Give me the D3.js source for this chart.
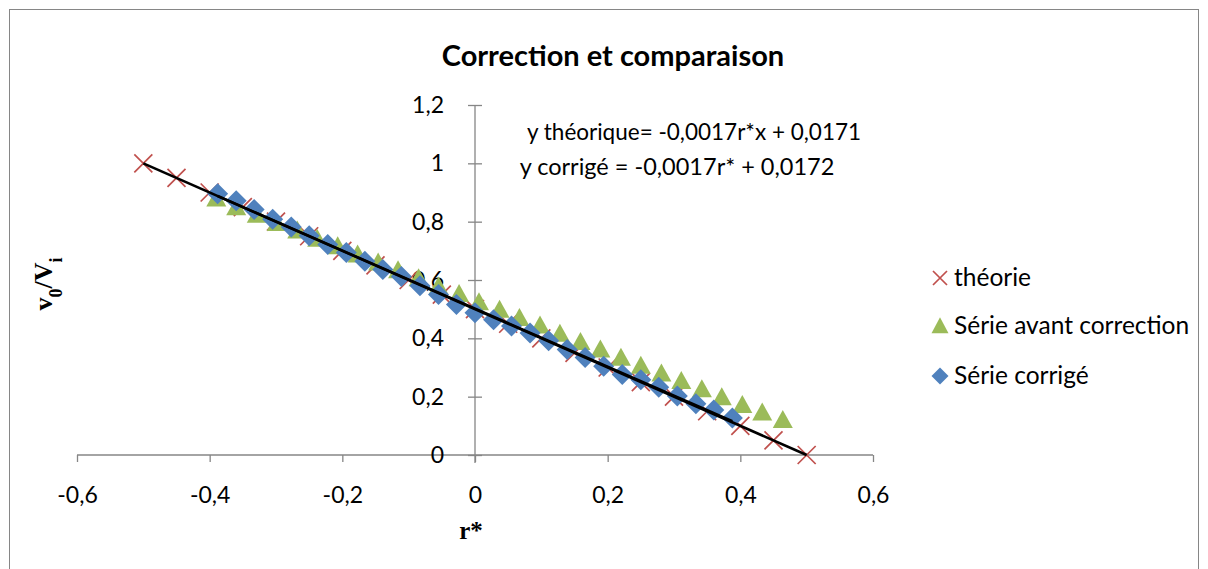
<!DOCTYPE html>
<html>
<head>
<meta charset="utf-8">
<script src="https://cdn.jsdelivr.net/npm/d3@7"></script>
<style>
  html, body { margin: 0; padding: 0; background: #fff; }
  svg { display: block; }
  text { font-family: Lato, "Open Sans", sans-serif; }
</style>
</head>
<body>
<svg id="chart" width="1208" height="569"></svg>
<script>
// ---------- data ----------
const theoryX = [-0.5,-0.45,-0.4,-0.35,-0.3,-0.25,-0.2,-0.15,-0.1,-0.05,0,0.05,0.1,0.15,0.2,0.25,0.3,0.35,0.4,0.45,0.5];
const theoryY = [1,0.95,0.9,0.85,0.8,0.75,0.7,0.65,0.6,0.55,0.5,0.45,0.4,0.35,0.3,0.25,0.2,0.15,0.1,0.05,0];

const avantX = [-0.390,-0.360,-0.329,-0.299,-0.268,-0.238,-0.207,-0.177,-0.146,-0.116,-0.085,-0.055,-0.024,0.006,0.037,0.067,0.098,0.128,0.159,0.189,0.220,0.250,0.281,0.311,0.342,0.372,0.403,0.433,0.464];
const avantY = [0.880,0.850,0.824,0.796,0.770,0.742,0.716,0.688,0.660,0.634,0.606,0.578,0.552,0.524,0.498,0.470,0.444,0.416,0.388,0.362,0.334,0.306,0.280,0.254,0.226,0.198,0.172,0.146,0.120];

const corrX = [-0.388,-0.360,-0.333,-0.305,-0.277,-0.250,-0.222,-0.194,-0.166,-0.139,-0.111,-0.083,-0.055,-0.028,0,0.028,0.055,0.083,0.111,0.139,0.166,0.194,0.222,0.250,0.277,0.305,0.333,0.360,0.388];
const corrY = [0.896,0.872,0.842,0.808,0.782,0.752,0.722,0.694,0.664,0.636,0.612,0.580,0.550,0.516,0.488,0.464,0.442,0.418,0.392,0.362,0.334,0.304,0.276,0.258,0.232,0.202,0.176,0.154,0.127];

const xTicks = [-0.6,-0.4,-0.2,0,0.2,0.4,0.6];
const yTicks = [0,0.2,0.4,0.6,0.8,1,1.2];
const seriesNames = ["théorie","Série avant correction","Série corrigé"];
const titleText = "Correction et comparaison";
const eqTexts = ["y théorique= -0,0017r*x + 0,0171","y corrigé = -0,0017r* + 0,0172"];

// ---------- layout ----------
const svg = d3.select("#chart");
const plot = {left: 77, right: 873, top: 105, bottom: 455};
const x = d3.scaleLinear().domain([-0.6, 0.6]).range([plot.left, plot.right]);
const y = d3.scaleLinear().domain([0, 1.2]).range([plot.bottom, plot.top]);
const fmt = d => String(+d.toFixed(1)).replace(".", ",");
const axisCol = "#868686";
const C = {theory: "#c0504d", avant: "#9bbb59", corr: "#4f81bd"};

// outer border (bottom edge lies below the visible area, as in the reference)
svg.append("rect").attr("x", 9.5).attr("y", 9.5).attr("width", 1189).attr("height", 580)
  .attr("fill", "#fff").attr("stroke", axisCol).attr("stroke-width", 1);

// title
svg.append("text").attr("x", 613).attr("y", 66).attr("text-anchor", "middle")
  .attr("font-size", 29).attr("font-weight", "bold").text(titleText);

// x axis
const gx = svg.append("g").attr("transform", `translate(0,${y(0)})`)
  .call(d3.axisBottom(x).tickValues(xTicks).tickFormat(fmt).tickSize(7).tickPadding(25));
gx.select(".domain").attr("stroke", axisCol).attr("stroke-width", 1.3)
  .attr("d", `M${plot.left},0H${plot.right}`);
gx.selectAll(".tick line").attr("stroke", axisCol).attr("stroke-width", 1.3);
gx.selectAll(".tick text").attr("font-size", 23).attr("fill", "#000")
  .style("font-family", "Lato, sans-serif");

// y axis (crossing ticks)
const gy = svg.append("g").attr("transform", `translate(${x(0)},0)`)
  .call(d3.axisLeft(y).tickValues(yTicks).tickFormat(fmt).tickSize(7).tickPadding(24));
gy.select(".domain").attr("stroke", axisCol).attr("stroke-width", 1.3)
  .attr("d", `M0,${plot.top}V${plot.bottom + 8}`);
gy.selectAll(".tick line").attr("stroke", axisCol).attr("stroke-width", 1.3)
  .attr("x1", 7).attr("x2", -7);
gy.selectAll(".tick text").attr("font-size", 23).attr("fill", "#000")
  .style("font-family", "Lato, sans-serif");

// axis titles
svg.append("text").attr("x", 471).attr("y", 539).attr("text-anchor", "middle")
  .style("font-family", "'Liberation Serif', 'Times New Roman', serif")
  .attr("font-size", 25).attr("font-weight", "bold").text("r*");
const yl = svg.append("text")
  .attr("transform", "translate(52,284) rotate(-90)").attr("text-anchor", "middle")
  .style("font-family", "'Liberation Serif', 'Times New Roman', serif")
  .attr("font-size", 26).attr("font-weight", "bold");
yl.append("tspan").text("v");
yl.append("tspan").attr("baseline-shift", "sub").attr("font-size", 18).text("0");
yl.append("tspan").text("/V");
yl.append("tspan").attr("baseline-shift", "sub").attr("font-size", 18).text("i");

// markers
const crossPath = s => `M${-s},${-s}L${s},${s}M${-s},${s}L${s},${-s}`;
const triPath = (w, h) => `M0,${-h*0.55}L${w/2},${h*0.45}L${-w/2},${h*0.45}Z`;
const diaPath = (r) => `M0,${-r}L${r},0L0,${r}L${-r},0Z`;

const theory = theoryX.map((v, i) => ({x: v, y: theoryY[i]}));
const avant = avantX.map((v, i) => ({x: v, y: avantY[i]}));
const corr = corrX.map((v, i) => ({x: v, y: corrY[i]}));

svg.append("g").selectAll("path").data(theory).join("path")
  .attr("transform", d => `translate(${x(d.x)},${y(d.y)})`)
  .attr("d", crossPath(9)).attr("stroke", C.theory).attr("stroke-width", 1.7).attr("fill", "none");

svg.append("g").selectAll("path").data(avant).join("path")
  .attr("transform", d => `translate(${x(d.x)},${y(d.y)})`)
  .attr("d", triPath(20, 18)).attr("fill", C.avant);

svg.append("g").selectAll("path").data(corr).join("path")
  .attr("transform", d => `translate(${x(d.x)},${y(d.y)})`)
  .attr("d", diaPath(10.5)).attr("fill", C.corr);

// linear trendlines (least squares from the data)
function fit(data) {
  const mx = d3.mean(data, d => d.x), my = d3.mean(data, d => d.y);
  const b = d3.sum(data, d => (d.x - mx) * (d.y - my)) / d3.sum(data, d => (d.x - mx) ** 2);
  const a = my - b * mx;
  const [x0, x1] = d3.extent(data, d => d.x);
  return [{x: x0, y: a + b * x0}, {x: x1, y: a + b * x1}];
}
const line = d3.line().x(d => x(d.x)).y(d => y(d.y));
svg.append("path").attr("d", line(fit(theory))).attr("stroke", "#000").attr("stroke-width", 2.6).attr("fill", "none");
svg.append("path").attr("d", line(fit(corr))).attr("stroke", "#000").attr("stroke-width", 2.6).attr("fill", "none");

// equations
svg.append("text").attr("x", 694).attr("y", 140).attr("text-anchor", "middle").attr("font-size", 22.5).text(eqTexts[0]);
svg.append("text").attr("x", 677).attr("y", 175).attr("text-anchor", "middle").attr("font-size", 23.5).text(eqTexts[1]);

// legend
const lg = svg.append("g");
const ly = [278, 326, 376];
lg.append("path").attr("transform", `translate(940,${ly[0]})`).attr("d", crossPath(7))
  .attr("stroke", C.theory).attr("stroke-width", 1.7).attr("fill", "none");
lg.append("path").attr("transform", `translate(940,${ly[1]})`).attr("d", triPath(17, 16)).attr("fill", C.avant);
lg.append("path").attr("transform", `translate(940,${ly[2]})`).attr("d", diaPath(8.5)).attr("fill", C.corr);
seriesNames.forEach((s, i) => {
  lg.append("text").attr("x", 954).attr("y", ly[i] + 8).attr("font-size", 24.5).text(s);
});
</script>
</body>
</html>
